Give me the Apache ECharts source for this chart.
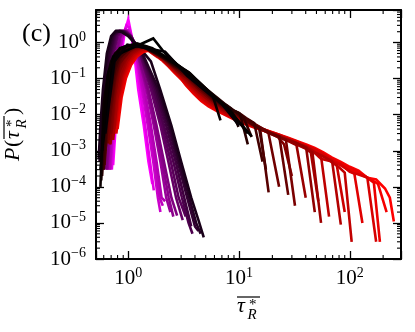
<!DOCTYPE html>
<html>
<head>
<meta charset="utf-8">
<script src="https://cdn.jsdelivr.net/npm/echarts@6.0.0/dist/echarts.min.js"></script>
<style>
  html, body { margin: 0; padding: 0; background: #fff; }
  #chart { width: 415px; height: 332px; }
</style>
</head>
<body>
<div id="chart"></div>
<script>
// shade 0 = magenta, 0.5 = black, 1 = red
const narrowShade = [0, 0.05, 0.1, 0.15, 0.2, 0.25, 0.3, 0.35, 0.4, 0.45,
  0.125, 0.225, 0.325, 0.375, 0.425];
const narrowCurves = [
  [[0.73,4e-4],[0.77,5e-3],[0.82,0.05],[0.87,0.5],[0.93,2.0],[1.0,4.4],[1.06,1.8],[1.13,0.5],[1.23,0.05],[1.38,5e-3],[1.52,5e-4],[1.65,1.2e-4]],
  [[0.71,3e-4],[0.75,4e-3],[0.8,0.05],[0.85,0.45],[0.9,1.6],[0.96,3.0],[1.02,2.6],[1.09,1.2],[1.17,0.4],[1.28,0.05],[1.42,5e-3],[1.57,5e-4],[1.7,8e-5]],
  [[0.69,3e-4],[0.73,4e-3],[0.78,0.05],[0.83,0.4],[0.88,1.3],[0.94,2.3],[1.0,2.2],[1.08,1.3],[1.18,0.45],[1.33,0.05],[1.5,5e-3],[1.68,5e-4],[1.85,5e-5],[1.95,2e-5]],
  [[0.67,3e-4],[0.71,4e-3],[0.76,0.05],[0.81,0.4],[0.87,1.3],[0.93,2.1],[1.0,2.0],[1.08,1.4],[1.2,0.5],[1.4,0.05],[1.6,5e-3],[1.8,5e-4],[2.0,5e-5],[2.15,4e-5]],
  [[0.65,3e-4],[0.69,4e-3],[0.74,0.05],[0.79,0.45],[0.85,1.4],[0.91,2.1],[0.98,2.0],[1.07,1.4],[1.2,0.55],[1.46,0.05],[1.7,5e-3],[1.95,5e-4],[2.2,5e-5],[2.4,2e-5]],
  [[0.63,3e-4],[0.67,4e-3],[0.72,0.05],[0.77,0.45],[0.83,1.4],[0.89,2.1],[0.96,2.0],[1.06,1.5],[1.22,0.6],[1.52,0.05],[1.8,5e-3],[2.1,5e-4],[2.45,5e-5],[2.76,1.6e-5]],
  [[0.6,3e-4],[0.64,4e-3],[0.69,0.05],[0.74,0.5],[0.8,1.5],[0.87,2.1],[0.95,2.0],[1.06,1.5],[1.25,0.6],[1.6,0.05],[1.95,5e-3],[2.3,5e-4],[2.7,5e-5],[3.1,1.2e-5]],
  [[0.58,4e-4],[0.62,5e-3],[0.66,0.05],[0.71,0.5],[0.77,1.6],[0.84,2.15],[0.92,2.0],[1.04,1.5],[1.28,0.6],[1.7,0.05],[2.1,5e-3],[2.55,5e-4],[3.05,5e-5],[3.5,1e-5],[3.8,5e-6]],
  [[0.56,5e-4],[0.59,5e-3],[0.63,0.05],[0.68,0.5],[0.74,1.6],[0.81,2.1],[0.9,2.0],[1.02,1.5],[1.3,0.6],[1.82,0.05],[2.3,5e-3],[2.8,5e-4],[3.4,5e-5],[4.0,8e-6],[4.3,6e-6]],
  [[0.54,6e-4],[0.56,5e-3],[0.59,0.05],[0.64,0.5],[0.7,1.5],[0.77,2.1],[0.86,2.0],[1.0,1.5],[1.3,0.65],[1.6,0.3],[1.94,0.05],[2.45,5e-3],[3.0,5e-4],[3.7,5e-5],[4.3,1.2e-5],[4.8,4e-6]],
  [[0.68,3e-4],[0.72,4e-3],[0.77,0.05],[0.82,0.4],[0.875,1.3],[0.935,2.2],[1.0,2.1],[1.08,1.35],[1.19,0.48],[1.36,0.05],[1.55,5e-3],[1.74,5e-4],[1.92,5e-5],[2.05,3e-5]],
  [[0.64,3e-4],[0.68,4e-3],[0.73,0.05],[0.78,0.45],[0.84,1.4],[0.9,2.1],[0.97,2.0],[1.065,1.45],[1.21,0.57],[1.49,0.05],[1.75,5e-3],[2.02,5e-4],[2.32,5e-5],[2.55,1.5e-5]],
  [[0.59,3e-4],[0.63,4e-3],[0.675,0.05],[0.725,0.5],[0.785,1.55],[0.855,2.1],[0.935,2.0],[1.05,1.5],[1.26,0.6],[1.65,0.05],[2.02,5e-3],[2.42,5e-4],[2.85,5e-5],[3.3,1.5e-5]],
  [[0.57,4e-4],[0.605,5e-3],[0.645,0.05],[0.695,0.5],[0.755,1.6],[0.825,2.1],[0.91,2.0],[1.03,1.5],[1.29,0.6],[1.76,0.05],[2.2,5e-3],[2.68,5e-4],[3.2,5e-5],[3.7,8e-6]],
  [[0.55,5e-4],[0.575,5e-3],[0.61,0.05],[0.66,0.5],[0.72,1.55],[0.79,2.1],[0.88,2.0],[1.01,1.5],[1.3,0.62],[1.88,0.05],[2.38,5e-3],[2.9,5e-4],[3.55,5e-5],[4.1,1e-5],[4.5,5e-6]]
];

const broadShade = [0.52, 0.56, 0.6, 0.63, 0.67, 0.7, 0.74, 0.78, 0.81, 0.85, 0.88, 0.92, 0.96, 1.0,
  0.58, 0.65, 0.72, 0.76, 0.8, 0.83, 0.87, 0.9, 0.94, 0.98];
const broadCurves = [
  [[0.56,1e-4],[0.6,0.02],[0.65,0.12],[0.7,0.3],[0.76,0.5],[0.83,0.65],[0.9,0.75],[0.98,0.83],[1.07,0.86],[1.17,0.85],[1.28,0.8],[1.4,0.74],[1.53,0.66],[1.68,0.57],[1.85,0.5],[2.05,0.42],[2.3,0.33],[2.6,0.26],[2.95,0.2],[3.35,0.16],[3.8,0.11],[4.35,0.075],[5.0,0.05],[5.8,0.033],[6.8,7e-3]],
  [[0.57,1.5e-4],[0.6,8e-3],[0.65,0.055],[0.7,0.155],[0.76,0.34],[0.83,0.53],[0.945,0.66],[1.03,0.77],[1.12,0.82],[1.23,0.83],[1.34,0.8],[1.47,0.74],[1.6,0.65],[1.76,0.56],[1.94,0.49],[2.15,0.41],[2.42,0.32],[2.73,0.25],[3.1,0.19],[3.52,0.15],[4.0,0.102],[4.57,0.07],[5.25,0.047],[6.1,0.031],[7.15,0.021],[8.4,0.015],[9.9,4.6e-3]],
  [[0.58,2e-4],[0.62,5e-3],[0.65,0.025],[0.7,0.079],[0.76,0.23],[0.83,0.43],[0.9,0.58],[0.98,0.71],[1.07,0.79],[1.17,0.81],[1.28,0.79],[1.4,0.74],[1.53,0.65],[1.68,0.55],[1.85,0.48],[2.05,0.4],[2.3,0.31],[2.6,0.23],[2.95,0.18],[3.35,0.14],[3.8,0.095],[4.35,0.064],[5.0,0.044],[5.8,0.029],[6.8,0.02],[8.0,0.0146],[9.4,0.0119],[11,8.3e-3],[13,2.4e-3]],
  [[0.6,3e-4],[0.63,3e-3],[0.65,0.014],[0.7,0.048],[0.76,0.17],[0.83,0.37],[0.945,0.53],[1.03,0.67],[1.12,0.76],[1.23,0.8],[1.34,0.79],[1.47,0.74],[1.6,0.64],[1.76,0.55],[1.94,0.47],[2.15,0.39],[2.42,0.3],[2.73,0.225],[3.1,0.169],[3.52,0.132],[4.0,0.0895],[4.57,0.061],[5.25,0.041],[6.1,0.028],[7.15,0.019],[8.4,0.0141],[9.9,0.0115],[11.6,8.1e-3],[13.7,5.9e-3],[16.3,5e-4]],
  [[0.61,4e-4],[0.65,6e-3],[0.7,0.025],[0.76,0.12],[0.83,0.3],[0.9,0.47],[0.98,0.62],[1.07,0.73],[1.17,0.78],[1.28,0.78],[1.4,0.74],[1.53,0.63],[1.68,0.54],[1.85,0.46],[2.05,0.38],[2.3,0.29],[2.6,0.21],[2.95,0.16],[3.35,0.122],[3.8,0.083],[4.35,0.056],[5.0,0.039],[5.8,0.026],[6.8,0.018],[8.0,0.0135],[9.4,0.011],[11,7.9e-3],[13,5.8e-3],[15.5,4.1e-3],[18.5,7e-5]],
  [[0.62,1e-3],[0.65,3.5e-3],[0.7,0.015],[0.76,0.089],[0.83,0.26],[0.945,0.43],[1.03,0.59],[1.12,0.7],[1.23,0.77],[1.34,0.78],[1.47,0.74],[1.6,0.63],[1.76,0.53],[1.94,0.45],[2.15,0.37],[2.42,0.28],[2.73,0.206],[3.1,0.151],[3.52,0.116],[4.0,0.0785],[4.57,0.053],[5.25,0.0367],[6.1,0.0252],[7.15,0.0175],[8.4,0.013],[9.9,0.0106],[11.6,7.7e-3],[13.7,5.7e-3],[16.3,4.1e-3],[19.4,3.0e-3],[23.1,2.5e-3],[27.8,6e-5]],
  [[0.65,1.6e-3],[0.7,7.7e-3],[0.76,0.061],[0.83,0.21],[0.9,0.38],[0.98,0.54],[1.07,0.67],[1.17,0.75],[1.28,0.78],[1.4,0.74],[1.53,0.62],[1.68,0.52],[1.85,0.44],[2.05,0.36],[2.3,0.27],[2.6,0.196],[2.95,0.142],[3.35,0.108],[3.8,0.073],[4.35,0.049],[5.0,0.034],[5.8,0.0237],[6.8,0.0167],[8.0,0.0125],[9.4,0.0101],[11,7.4e-3],[13,5.6e-3],[15.5,4.1e-3],[18.5,3.1e-3],[22,2.5e-3],[26.5,2.0e-3],[32,3e-5]],
  [[0.68,1.5e-3],[0.7,4e-3],[0.76,0.041],[0.83,0.17],[0.945,0.335],[1.03,0.5],[1.12,0.64],[1.23,0.73],[1.34,0.77],[1.47,0.745],[1.6,0.615],[1.76,0.51],[1.94,0.43],[2.15,0.35],[2.42,0.26],[2.73,0.186],[3.1,0.134],[3.52,0.1],[4.0,0.068],[4.57,0.046],[5.25,0.032],[6.1,0.0223],[7.15,0.0158],[8.4,0.0119],[9.9,9.6e-3],[11.6,7.2e-3],[13.7,5.4e-3],[16.3,4.1e-3],[19.4,3.1e-3],[23.1,2.4e-3],[27.8,2.0e-3],[33.6,1.6e-3],[40.4,1.2e-3],[48.3,2e-5]],
  [[0.69,1.5e-3],[0.72,6e-3],[0.76,0.031],[0.83,0.147],[0.9,0.305],[0.98,0.48],[1.07,0.62],[1.17,0.72],[1.28,0.77],[1.4,0.745],[1.53,0.61],[1.68,0.51],[1.85,0.42],[2.05,0.34],[2.3,0.25],[2.6,0.18],[2.95,0.128],[3.35,0.095],[3.8,0.064],[4.35,0.043],[5.0,0.03],[5.8,0.0213],[6.8,0.0152],[8.0,0.0115],[9.4,9.3e-3],[11,7e-3],[13,5.3e-3],[15.5,4.1e-3],[18.5,3.2e-3],[22,2.6e-3],[26.5,2.0e-3],[32,1.7e-3],[38.5,1.3e-3],[46,9e-4],[55,1e-5]],
  [[0.7,2e-3],[0.76,0.021],[0.83,0.12],[0.945,0.27],[1.03,0.44],[1.12,0.59],[1.23,0.71],[1.34,0.77],[1.47,0.75],[1.6,0.6],[1.76,0.5],[1.94,0.41],[2.15,0.33],[2.42,0.24],[2.73,0.17],[3.1,0.12],[3.52,0.089],[4.0,0.059],[4.57,0.04],[5.25,0.0284],[6.1,0.02],[7.15,0.0145],[8.4,0.011],[9.9,8.9e-3],[11.6,6.8e-3],[13.7,5.2e-3],[16.3,4.0e-3],[19.4,3.2e-3],[23.1,2.6e-3],[27.8,2.1e-3],[33.6,1.6e-3],[40.4,1.3e-3],[48.3,9e-4],[57.8,7e-4],[69.3,5e-4],[83,9e-6]],
  [[0.72,3e-3],[0.76,0.016],[0.83,0.1],[0.9,0.246],[0.98,0.42],[1.07,0.57],[1.17,0.7],[1.28,0.76],[1.4,0.75],[1.53,0.6],[1.68,0.49],[1.85,0.41],[2.05,0.326],[2.3,0.235],[2.6,0.163],[2.95,0.115],[3.35,0.084],[3.8,0.056],[4.35,0.0377],[5.0,0.027],[5.8,0.0192],[6.8,0.014],[8.0,0.0106],[9.4,8.6e-3],[11,6.6e-3],[13,5.1e-3],[15.5,4.0e-3],[18.5,3.2e-3],[22,2.7e-3],[26.5,2.1e-3],[32,1.7e-3],[38.5,1.35e-3],[46,1.0e-3],[55,6e-4],[66,5.2e-4],[79,3.6e-4],[90,2.5e-4],[104,3e-6]],
  [[0.72,2e-3],[0.76,0.011],[0.83,0.084],[0.945,0.218],[1.03,0.386],[1.12,0.55],[1.23,0.68],[1.34,0.76],[1.47,0.75],[1.6,0.59],[1.76,0.485],[1.94,0.4],[2.15,0.317],[2.42,0.226],[2.73,0.155],[3.1,0.108],[3.52,0.0785],[4.0,0.052],[4.57,0.035],[5.25,0.0252],[6.1,0.018],[7.15,0.0133],[8.4,0.0102],[9.9,8.2e-3],[11.6,6.4e-3],[13.7,5e-3],[16.3,4.0e-3],[19.4,3.3e-3],[23.1,2.8e-3],[27.8,2.2e-3],[33.6,1.75e-3],[40.4,1.35e-3],[48.3,1.1e-3],[57.8,8e-4],[69.3,5.5e-4],[83,4.2e-4],[100,2.6e-4],[120,2.2e-4],[144,1.8e-4],[173,3e-6]],
  [[0.74,3e-3],[0.78,0.015],[0.83,0.068],[0.9,0.192],[0.98,0.357],[1.07,0.52],[1.17,0.665],[1.28,0.75],[1.4,0.75],[1.53,0.586],[1.68,0.48],[1.85,0.39],[2.05,0.308],[2.3,0.218],[2.6,0.147],[2.95,0.101],[3.35,0.073],[3.8,0.048],[4.35,0.032],[5.0,0.0235],[5.8,0.017],[6.8,0.0126],[8.0,9.7e-3],[9.4,7.9e-3],[11,6.2e-3],[13,4.9e-3],[15.5,4e-3],[18.5,3.35e-3],[22,2.85e-3],[26.5,2.3e-3],[32,1.9e-3],[38.5,1.5e-3],[46,1.2e-3],[55,9.3e-4],[66,6.6e-4],[79,5e-4],[95,3.6e-4],[114,2.8e-4],[137,2.0e-4],[165,1.3e-4],[187,3e-6]],
  [[0.75,3e-3],[0.79,0.02],[0.83,0.055],[0.945,0.17],[1.03,0.33],[1.12,0.5],[1.23,0.65],[1.34,0.75],[1.47,0.75],[1.6,0.58],[1.76,0.47],[1.94,0.38],[2.15,0.3],[2.42,0.21],[2.73,0.14],[3.1,0.095],[3.52,0.068],[4.0,0.045],[4.57,0.03],[5.25,0.022],[6.1,0.016],[7.15,0.012],[8.4,9.3e-3],[9.9,7.5e-3],[11.6,6e-3],[13.7,4.8e-3],[16.3,4e-3],[19.4,3.4e-3],[23.1,2.8e-3],[27.8,2.3e-3],[33.6,1.85e-3],[40.4,1.5e-3],[48.3,1.2e-3],[57.8,9e-4],[69.3,6.5e-4],[83,4.9e-4],[100,3.6e-4],[120,2.8e-4],[144,1.8e-4],[173,1.6e-4],[208,9e-5],[230,5e-5],[250,1.1e-5]],
  [[0.6,3e-3],[0.66,0.06],[0.74,0.3],[0.84,0.62],[0.96,0.8],[1.1,0.84],[1.27,0.78],[1.46,0.68],[1.7,0.54],[2.0,0.41],[2.35,0.3],[2.8,0.21],[3.3,0.15],[3.9,0.1],[4.6,0.066],[5.4,0.044],[6.4,0.029],[7.6,0.019],[9,0.013],[10.2,0.0105],[12,1.5e-3]],
  [[0.62,2e-3],[0.68,0.04],[0.75,0.2],[0.85,0.5],[0.97,0.7],[1.11,0.79],[1.28,0.77],[1.48,0.67],[1.72,0.53],[2.0,0.4],[2.35,0.29],[2.8,0.2],[3.3,0.14],[3.9,0.092],[4.6,0.06],[5.4,0.04],[6.4,0.026],[7.6,0.0175],[9,0.012],[10.8,8e-3],[13,5.6e-3],[15.2,4.2e-3],[17.5,3e-4]],
  [[0.66,2e-3],[0.71,0.03],[0.78,0.16],[0.88,0.42],[1.0,0.63],[1.15,0.75],[1.32,0.76],[1.52,0.66],[1.76,0.52],[2.05,0.38],[2.4,0.27],[2.85,0.18],[3.35,0.12],[3.95,0.078],[4.65,0.05],[5.5,0.033],[6.5,0.022],[7.7,0.0155],[9.1,0.011],[10.8,7.8e-3],[12.8,5.6e-3],[15.3,4.2e-3],[18.4,3.2e-3],[23,1e-4]],
  [[0.7,3e-3],[0.75,0.03],[0.82,0.14],[0.92,0.36],[1.04,0.57],[1.19,0.71],[1.37,0.74],[1.58,0.64],[1.83,0.5],[2.12,0.36],[2.5,0.24],[2.95,0.155],[3.5,0.1],[4.1,0.062],[4.85,0.04],[5.7,0.027],[6.8,0.019],[8.0,0.0135],[9.5,0.0098],[11.3,7.2e-3],[13.4,5.4e-3],[16,4.1e-3],[19,3.1e-3],[22.5,2.4e-3],[25.5,1.5e-3],[30,2e-4]],
  [[0.72,4e-3],[0.77,0.03],[0.85,0.13],[0.95,0.33],[1.08,0.53],[1.23,0.68],[1.42,0.72],[1.64,0.6],[1.9,0.46],[2.2,0.32],[2.6,0.2],[3.05,0.125],[3.6,0.078],[4.25,0.048],[5.0,0.031],[5.9,0.021],[7.0,0.015],[8.3,0.011],[9.8,8.3e-3],[11.6,6.4e-3],[13.8,5e-3],[16.4,3.9e-3],[19.5,3.1e-3],[23.2,2.5e-3],[27.6,1.9e-3],[33,1.45e-3],[40,5e-5]],
  [[0.73,2e-3],[0.79,0.025],[0.87,0.12],[0.97,0.3],[1.1,0.5],[1.26,0.66],[1.45,0.7],[1.68,0.58],[1.95,0.44],[2.26,0.3],[2.65,0.18],[3.1,0.11],[3.65,0.068],[4.3,0.042],[5.05,0.028],[5.95,0.019],[7.0,0.014],[8.3,0.0105],[9.8,8e-3],[11.6,6.2e-3],[13.8,4.9e-3],[16.4,3.9e-3],[19.5,3.1e-3],[23.2,2.5e-3],[27.6,1.95e-3],[32.8,1.5e-3],[39,1.2e-3],[44.5,9e-4],[52,4e-5]],
  [[0.75,4e-3],[0.81,0.03],[0.89,0.12],[1.0,0.3],[1.13,0.48],[1.29,0.63],[1.48,0.68],[1.71,0.56],[1.98,0.42],[2.3,0.28],[2.7,0.16],[3.15,0.095],[3.7,0.058],[4.35,0.036],[5.1,0.024],[6.0,0.017],[7.1,0.0125],[8.4,9.5e-3],[9.9,7.4e-3],[11.7,5.8e-3],[13.9,4.7e-3],[16.5,3.8e-3],[19.6,3.1e-3],[23.3,2.5e-3],[27.7,2e-3],[33,1.55e-3],[39.2,1.2e-3],[46.6,9.5e-4],[55,7e-4],[65,1.5e-5]],
  [[0.77,5e-3],[0.83,0.035],[0.91,0.12],[1.02,0.28],[1.16,0.46],[1.32,0.6],[1.52,0.66],[1.75,0.54],[2.02,0.4],[2.35,0.26],[2.75,0.15],[3.2,0.085],[3.75,0.052],[4.4,0.032],[5.15,0.022],[6.05,0.016],[7.1,0.012],[8.4,9e-3],[9.9,7.1e-3],[11.7,5.6e-3],[13.9,4.6e-3],[16.5,3.8e-3],[19.6,3.1e-3],[23.3,2.5e-3],[27.7,2e-3],[33,1.6e-3],[39.2,1.25e-3],[46.6,9.8e-4],[55.4,7.4e-4],[65.8,5.6e-4],[76,4.3e-4],[90,2e-5]],
  [[0.78,3e-3],[0.85,0.03],[0.93,0.11],[1.04,0.26],[1.18,0.43],[1.35,0.57],[1.55,0.63],[1.79,0.52],[2.07,0.37],[2.4,0.23],[2.8,0.13],[3.27,0.072],[3.83,0.043],[4.5,0.027],[5.25,0.019],[6.15,0.014],[7.2,0.0108],[8.5,8.4e-3],[10,6.7e-3],[11.8,5.4e-3],[14,4.4e-3],[16.6,3.7e-3],[19.7,3.1e-3],[23.4,2.55e-3],[27.8,2.05e-3],[33,1.65e-3],[39.2,1.3e-3],[46.6,1.02e-3],[55.4,7.8e-4],[65.8,5.9e-4],[78,4.4e-4],[92.7,3.2e-4],[110,2.3e-4],[130,1e-5]],
  [[0.8,4e-3],[0.87,0.03],[0.95,0.1],[1.06,0.24],[1.2,0.41],[1.37,0.55],[1.58,0.61],[1.82,0.5],[2.1,0.35],[2.44,0.21],[2.85,0.12],[3.32,0.065],[3.9,0.038],[4.55,0.024],[5.3,0.017],[6.2,0.013],[7.3,0.0102],[8.6,8e-3],[10.1,6.4e-3],[11.9,5.2e-3],[14.1,4.3e-3],[16.7,3.6e-3],[19.8,3e-3],[23.5,2.5e-3],[27.9,2.05e-3],[33.1,1.7e-3],[39.3,1.35e-3],[46.7,1.08e-3],[55.5,8.4e-4],[66,6.3e-4],[78.4,4.8e-4],[93,3.6e-4],[110,2.7e-4],[131,2.1e-4],[155,1.6e-4],[180,1.2e-4],[215,2e-5]]
];

// few-bin curves near the middle of the colour scale
const coarseShade = [0.5, 0.49, 0.51];
const coarseCurves = [
  [[0.58,1e-3],[0.73,0.41],[1.68,1.3],[2.15,0.5],[3.3,0.15],[5.2,0.045],[8.2,0.013],[13,2.5e-3]],
  [[0.62,3e-3],[0.75,0.3],[0.98,0.88],[2.15,0.56],[3.4,0.12],[4.8,0.05],[7.0,0.02],[10,5e-3]],
  [[0.56,3e-4],[0.66,0.15],[0.84,0.7],[1.2,0.95],[1.65,0.7],[2.5,0.3],[3.6,0.14],[5.5,0.04],[8,0.015],[12,3e-3]]
];

const xRange = [0.511, 290];
const yRange = [1e-6, 8];

const FONT = "'Liberation Serif', 'DejaVu Serif', serif";
const GL = 96, GR = 401, GT = 10, GB = 259;

function shadeColor(t) {
  let r, b;
  if (t <= 0.5) { r = b = Math.round(255 * (1 - 2 * t)); }
  else { r = Math.round(255 * (2 * t - 1)); b = 0; }
  return 'rgb(' + r + ',0,' + b + ')';
}

function powLabel(v) {
  const e = Math.log10(v);
  const k = Math.round(e);
  if (Math.abs(e - k) > 1e-6) return '';
  return '{b|10}{e|' + (k < 0 ? '\u2212' + (-k) : k) + '}';
}

const labelRich = {
  b: { fontFamily: FONT, fontSize: 21, color: '#000', lineHeight: 21, verticalAlign: 'bottom' },
  e: { fontFamily: FONT, fontSize: 14, color: '#000', lineHeight: 14, verticalAlign: 'bottom', padding: [0, 0, 9, 0] }
};

function lineSeries(c, t) {
  return {
    type: 'line',
    data: c,
    showSymbol: false,
    symbol: 'none',
    silent: true,
    clip: true,
    lineStyle: { width: 2.6, color: shadeColor(t), join: 'miter' },
    itemStyle: { color: shadeColor(t) },
    emphasis: { disabled: true }
  };
}

// narrow family magenta -> dark purple, then broad family red -> dark, then coarse black ones on top
const series = [];
narrowCurves.map((c, i) => i)
  .sort((a, b) => narrowShade[a] - narrowShade[b])
  .forEach(i => series.push(lineSeries(narrowCurves[i], narrowShade[i])));
broadCurves.map((c, i) => i)
  .sort((a, b) => broadShade[b] - broadShade[a])
  .forEach(i => series.push(lineSeries(broadCurves[i], broadShade[i])));
coarseCurves.forEach((c, i) => series.push(lineSeries(c, coarseShade[i])));

const axisCommon = {
  axisLine: { show: true, onZero: false, lineStyle: { color: '#000', width: 2 } },
  axisTick: { show: true, inside: true, length: 8, lineStyle: { color: '#000', width: 1.3 } },
  splitLine: { show: false },
  minorTick: { show: false }
};

const chart = echarts.init(document.getElementById('chart'));
chart.setOption({
  animation: false,
  grid: { left: GL, right: 415 - GR, top: GT, bottom: 332 - GB },
  xAxis: [
    Object.assign({ type: 'log', min: xRange[0], max: xRange[1], position: 'bottom',
      axisLabel: { formatter: powLabel, rich: labelRich, margin: 9 } }, axisCommon),
    Object.assign({ type: 'log', min: xRange[0], max: xRange[1], position: 'top',
      axisLabel: { show: false } }, axisCommon)
  ],
  yAxis: [
    Object.assign({ type: 'log', min: yRange[0], max: yRange[1], position: 'left',
      axisLabel: { formatter: powLabel, rich: labelRich, margin: 10 } }, axisCommon),
    Object.assign({ type: 'log', min: yRange[0], max: yRange[1], position: 'right',
      axisLabel: { show: false } }, axisCommon)
  ],
  series: series
});

// minor ticks at 2..9 of each decade, drawn inward on all four sides
const px = v => chart.convertToPixel({ xAxisIndex: 0 }, v);
const py = v => chart.convertToPixel({ yAxisIndex: 0 }, v);
const graphics = [];
function tick(x1, y1, x2, y2) {
  return { type: 'line', silent: true, z: 50,
    shape: { x1: x1, y1: y1, x2: x2, y2: y2 },
    style: { stroke: '#000', lineWidth: 1.1 } };
}
for (let d = -1; d <= 2; d++) {
  for (let m = 2; m <= 9; m++) {
    const v = m * Math.pow(10, d);
    if (v <= xRange[0] || v >= xRange[1]) continue;
    const x = px(v);
    graphics.push(tick(x, GB, x, GB - 4), tick(x, GT, x, GT + 4));
  }
}
for (let d = -6; d <= 0; d++) {
  for (let m = 2; m <= 9; m++) {
    const v = m * Math.pow(10, d);
    if (v >= yRange[1]) continue;
    const y = py(v);
    graphics.push(tick(GL, y, GL + 4, y), tick(GR, y, GR - 4, y));
  }
}

// overlined tau_R^* built from pieces (local baseline at y = 0)
function tauPieces(x0) {
  return [
    { type: 'text', x: x0, y: -6.6, style: { text: '\u03c4', font: 'italic 22px ' + FONT, fill: '#000', verticalAlign: 'middle' } },
    { type: 'text', x: x0 + 10.5, y: 2.5, style: { text: 'R', font: 'italic 15px ' + FONT, fill: '#000', verticalAlign: 'middle' } },
    { type: 'text', x: x0 + 12, y: -7.5, style: { text: '*', font: '15px ' + FONT, fill: '#000', verticalAlign: 'middle' } },
    { type: 'line', shape: { x1: x0, y1: -16, x2: x0 + 23, y2: -16 }, style: { stroke: '#000', lineWidth: 1.2 } }
  ];
}

graphics.push({
  type: 'group', x: 249, y: 313, silent: true,
  children: tauPieces(-12)
});

graphics.push({
  type: 'group', x: 20, y: 135, rotation: Math.PI / 2, silent: true,
  children: [
    { type: 'text', x: -26, y: -6.6, style: { text: 'P', font: 'italic 22px ' + FONT, fill: '#000', verticalAlign: 'middle' } },
    { type: 'text', x: -12, y: -6.6, style: { text: '(', font: '22px ' + FONT, fill: '#000', verticalAlign: 'middle' } }
  ].concat(tauPieces(-4)).concat([
    { type: 'text', x: 20, y: -6.6, style: { text: ')', font: '22px ' + FONT, fill: '#000', verticalAlign: 'middle' } }
  ])
});

graphics.push({
  type: 'text', x: 22, y: 34, silent: true,
  style: { text: '(c)', font: '26px ' + FONT, fill: '#000', verticalAlign: 'middle' }
});

chart.setOption({ graphic: graphics });
</script>
</body>
</html>
